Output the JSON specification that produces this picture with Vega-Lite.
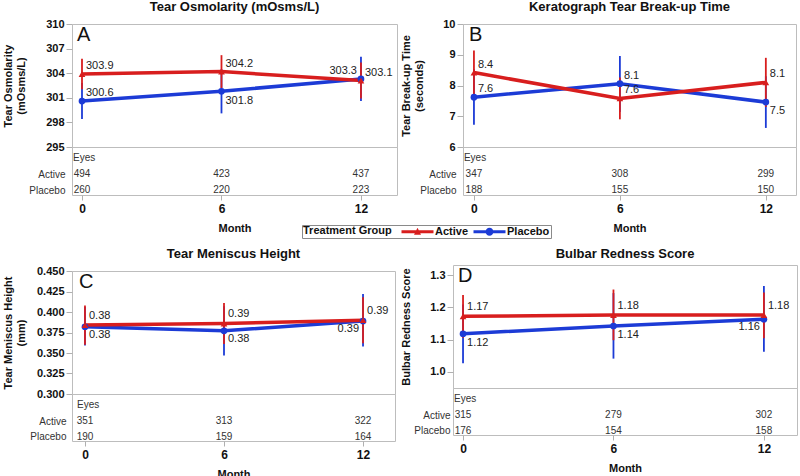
{
  "$schema": "https://vega.github.io/schema/vega-lite/v6.json",
  "padding": {"left": 1, "top": 0, "right": 0, "bottom": 0},
  "background": "white",
  "config": {
    "font": "Liberation Sans",
    "view": {"stroke": "#bdbdbd", "strokeWidth": 1},
    "axis": {"labelFont": "Liberation Sans", "titleFont": "Liberation Sans", "domain": false, "grid": false, "tickColor": "#b0b0b0", "labelColor": "#111111", "titleColor": "#111111", "labelOverlap": false, "tickCount": 20},
    "title": {"font": "Liberation Sans", "fontSize": 13, "fontWeight": "bold", "color": "#111111", "anchor": "middle", "offset": 4, "frame": "group"},
    "text": {"font": "Liberation Sans"},
    "legend": {"labelFont": "Liberation Sans", "titleFont": "Liberation Sans"}
  },
  "datasets": {
    "stats": [
      {"panel": "A", "group": "Placebo", "month": 0, "mean": 300.6, "lower": 298.4, "upper": 302.8},
      {"panel": "A", "group": "Placebo", "month": 6, "mean": 301.8, "lower": 299.1, "upper": 304.5},
      {"panel": "A", "group": "Placebo", "month": 12, "mean": 303.3, "lower": 300.6, "upper": 306.0},
      {"panel": "A", "group": "Active", "month": 0, "mean": 303.9, "lower": 302.05, "upper": 305.75},
      {"panel": "A", "group": "Active", "month": 6, "mean": 304.2, "lower": 302.2, "upper": 306.2},
      {"panel": "A", "group": "Active", "month": 12, "mean": 303.1, "lower": 300.9, "upper": 305.3},
      {"panel": "B", "group": "Placebo", "month": 0, "mean": 7.62, "lower": 6.72, "upper": 8.53},
      {"panel": "B", "group": "Placebo", "month": 6, "mean": 8.06, "lower": 7.14, "upper": 8.96},
      {"panel": "B", "group": "Placebo", "month": 12, "mean": 7.46, "lower": 6.62, "upper": 8.3},
      {"panel": "B", "group": "Active", "month": 0, "mean": 8.42, "lower": 7.7, "upper": 9.14},
      {"panel": "B", "group": "Active", "month": 6, "mean": 7.58, "lower": 6.9, "upper": 8.26},
      {"panel": "B", "group": "Active", "month": 12, "mean": 8.1, "lower": 7.3, "upper": 8.9},
      {"panel": "C", "group": "Placebo", "month": 0, "mean": 0.382, "lower": 0.359, "upper": 0.406},
      {"panel": "C", "group": "Placebo", "month": 6, "mean": 0.377, "lower": 0.347, "upper": 0.407},
      {"panel": "C", "group": "Placebo", "month": 12, "mean": 0.389, "lower": 0.358, "upper": 0.422},
      {"panel": "C", "group": "Active", "month": 0, "mean": 0.384, "lower": 0.36, "upper": 0.408},
      {"panel": "C", "group": "Active", "month": 6, "mean": 0.386, "lower": 0.361, "upper": 0.411},
      {"panel": "C", "group": "Active", "month": 12, "mean": 0.39, "lower": 0.362, "upper": 0.418},
      {"panel": "D", "group": "Placebo", "month": 0, "mean": 1.118, "lower": 1.027, "upper": 1.209},
      {"panel": "D", "group": "Placebo", "month": 6, "mean": 1.142, "lower": 1.041, "upper": 1.244},
      {"panel": "D", "group": "Placebo", "month": 12, "mean": 1.163, "lower": 1.062, "upper": 1.266},
      {"panel": "D", "group": "Active", "month": 0, "mean": 1.172, "lower": 1.106, "upper": 1.238},
      {"panel": "D", "group": "Active", "month": 6, "mean": 1.176, "lower": 1.098, "upper": 1.255},
      {"panel": "D", "group": "Active", "month": 12, "mean": 1.176, "lower": 1.104, "upper": 1.246}
    ],
    "eyes": [
      {"panel": "A", "group": "Active", "month": 0, "n": 494},
      {"panel": "A", "group": "Active", "month": 6, "n": 423},
      {"panel": "A", "group": "Active", "month": 12, "n": 437},
      {"panel": "A", "group": "Placebo", "month": 0, "n": 260},
      {"panel": "A", "group": "Placebo", "month": 6, "n": 220},
      {"panel": "A", "group": "Placebo", "month": 12, "n": 223},
      {"panel": "B", "group": "Active", "month": 0, "n": 347},
      {"panel": "B", "group": "Active", "month": 6, "n": 308},
      {"panel": "B", "group": "Active", "month": 12, "n": 299},
      {"panel": "B", "group": "Placebo", "month": 0, "n": 188},
      {"panel": "B", "group": "Placebo", "month": 6, "n": 155},
      {"panel": "B", "group": "Placebo", "month": 12, "n": 150},
      {"panel": "C", "group": "Active", "month": 0, "n": 351},
      {"panel": "C", "group": "Active", "month": 6, "n": 313},
      {"panel": "C", "group": "Active", "month": 12, "n": 322},
      {"panel": "C", "group": "Placebo", "month": 0, "n": 190},
      {"panel": "C", "group": "Placebo", "month": 6, "n": 159},
      {"panel": "C", "group": "Placebo", "month": 12, "n": 164},
      {"panel": "D", "group": "Active", "month": 0, "n": 315},
      {"panel": "D", "group": "Active", "month": 6, "n": 279},
      {"panel": "D", "group": "Active", "month": 12, "n": 302},
      {"panel": "D", "group": "Placebo", "month": 0, "n": 176},
      {"panel": "D", "group": "Placebo", "month": 6, "n": 154},
      {"panel": "D", "group": "Placebo", "month": 12, "n": 158}
    ],
    "letters": [
      {"panel": "A", "t": "A"},
      {"panel": "B", "t": "B"},
      {"panel": "C", "t": "C"},
      {"panel": "D", "t": "D"}
    ],
    "eyeshead": [
      {"panel": "A", "group": "Eyes", "t": "Eyes"},
      {"panel": "B", "group": "Eyes", "t": "Eyes"},
      {"panel": "C", "group": "Eyes", "t": "Eyes"},
      {"panel": "D", "group": "Eyes", "t": "Eyes"}
    ]
  },
  "columns": 2,
  "align": "none",
  "spacing": {"row": 13, "column": 2},
  "concat": [
        {
          "spacing": 0, "bounds": "flush",
          "vconcat": [
            {
              "title": {"text": "Tear Osmolarity (mOsms/L)"},
              "width": 325, "height": 123,
              "layer": [
                {"data": {"name": "stats"}, "transform": [{"filter": "datum.panel === 'A'"}],
                 "mark": {"type": "rule", "strokeWidth": 1.8},
                 "encoding": {"x": {"field": "month", "type": "quantitative", "scale": {"domain": [-0.43, 13.55], "nice": false, "zero": false}, "axis": null},
                  "y": {"field": "lower", "type": "quantitative", "scale": {"domain": [295, 310], "nice": false, "zero": false}, "axis": {"values": [295, 298, 301, 304, 307, 310], "format": "d", "title": ["Tear Osmolarity", "(mOsms/L)"], "titleFontSize": 11, "titleFontWeight": "bold", "labelFontSize": 11, "labelFontWeight": "bold", "tickSize": 6, "labelPadding": 2, "titlePadding": 19}},
                  "y2": {"field": "upper"},
                  "color": {"condition": {"test": "datum.group === 'Active'", "value": "#d81e1e"}, "value": "#1c3bd6"}}},
                {"data": {"name": "stats"}, "transform": [{"filter": "datum.panel === 'A'"}],
                 "mark": {"type": "line", "strokeWidth": 3.5},
                 "encoding": {"x": {"field": "month", "type": "quantitative"}, "y": {"field": "mean", "type": "quantitative"}, "detail": {"field": "group"},
                  "color": {"condition": {"test": "datum.group === 'Active'", "value": "#d81e1e"}, "value": "#1c3bd6"}}},
                {"data": {"name": "stats"}, "transform": [{"filter": "datum.panel === 'A'"}],
                 "mark": {"type": "point", "filled": true, "opacity": 1, "size": 45},
                 "encoding": {"x": {"field": "month", "type": "quantitative"}, "y": {"field": "mean", "type": "quantitative"},
                  "color": {"condition": {"test": "datum.group === 'Active'", "value": "#d81e1e"}, "value": "#1c3bd6"},
                  "shape": {"condition": {"test": "datum.group === 'Active'", "value": "triangle-up"}, "value": "circle"}}},
                {"data": {"name": "stats"}, "transform": [{"filter": "datum.panel === 'A' && !(datum.group === 'Placebo' && datum.month >= 6)"}],
                 "mark": {"type": "text", "align": "left", "baseline": "middle", "dx": 4, "dy": -8, "fontSize": 11, "color": "#222222"},
                 "encoding": {"x": {"field": "month", "type": "quantitative"}, "y": {"field": "mean", "type": "quantitative"}, "text": {"field": "mean", "format": ".1f"}}},
                {"data": {"name": "stats"}, "transform": [{"filter": "datum.panel === 'A' && datum.group === 'Placebo' && datum.month === 6"}],
                 "mark": {"type": "text", "align": "left", "baseline": "middle", "dx": 4, "dy": 10, "fontSize": 11, "color": "#222222"},
                 "encoding": {"x": {"field": "month", "type": "quantitative"}, "y": {"field": "mean", "type": "quantitative"}, "text": {"field": "mean", "format": ".1f"}}},
                {"data": {"name": "stats"}, "transform": [{"filter": "datum.panel === 'A' && datum.group === 'Placebo' && datum.month === 12"}],
                 "mark": {"type": "text", "align": "right", "baseline": "middle", "dx": -4, "dy": -8, "fontSize": 11, "color": "#222222"},
                 "encoding": {"x": {"field": "month", "type": "quantitative"}, "y": {"field": "mean", "type": "quantitative"}, "text": {"field": "mean", "format": ".1f"}}},
                {"data": {"name": "letters"}, "transform": [{"filter": "datum.panel === 'A'"}],
                 "mark": {"type": "text", "align": "left", "baseline": "top", "fontSize": 20, "dx": 5, "dy": 1, "color": "#111111"},
                 "encoding": {"x": {"datum": -0.43}, "y": {"datum": 310}, "text": {"field": "t"}}},
                {"data": {"name": "stats"}, "transform": [{"filter": "false"}],
                 "mark": {"type": "point", "filled": true, "opacity": 1},
                 "encoding": {
                  "color": {"field": "group", "type": "nominal", "scale": {"domain": ["Active", "Placebo"], "range": ["#d81e1e", "#1c3bd6"]}, "legend": {"orient": "none", "legendX": 230, "legendY": 201, "direction": "horizontal", "title": "Treatment Group", "titleOrient": "left", "titleFontSize": 11, "titleFontWeight": "bold", "titleColor": "#111111", "labelFontSize": 11, "labelFontWeight": "bold", "labelColor": "#111111", "symbolSize": 100, "symbolOpacity": 1, "symbolStrokeWidth": 0, "strokeColor": "#8a8a8a", "fillColor": "white", "padding": 1, "columnPadding": 4, "labelOffset": 12, "titlePadding": 20}},
                  "shape": {"field": "group", "type": "nominal", "scale": {"domain": ["Active", "Placebo"], "range": ["M-3.2,-0.3H3.2V0.3H-3.2ZM0,-0.8L0.7,0.6L-0.7,0.6Z", "M-3.2,-0.3H3.2V0.3H-3.2ZM0.8,0A0.8,0.8 0 1 1 -0.8,0A0.8,0.8 0 1 1 0.8,0Z"]}, "legend": {"orient": "none", "legendX": 230, "legendY": 201, "direction": "horizontal", "title": "Treatment Group", "titleOrient": "left", "titleFontSize": 11, "titleFontWeight": "bold", "titleColor": "#111111", "labelFontSize": 11, "labelFontWeight": "bold", "labelColor": "#111111", "symbolSize": 100, "symbolOpacity": 1, "symbolStrokeWidth": 0, "strokeColor": "#8a8a8a", "fillColor": "white", "padding": 1, "columnPadding": 4, "labelOffset": 12, "titlePadding": 20}}}}
              ]
            },
            {
              "width": 325, "height": 48,
              "layer": [
                {"data": {"name": "eyes"}, "transform": [{"filter": "datum.panel === 'A'"}],
                 "mark": {"type": "text", "fontSize": 10, "color": "#333333"},
                 "encoding": {"x": {"field": "month", "type": "quantitative", "scale": {"domain": [-0.43, 13.55], "nice": false, "zero": false}, "axis": {"values": [0, 6, 12], "format": "d", "title": "Month", "labelFontSize": 12, "labelFontWeight": "bold", "titleFontSize": 11, "titleFontWeight": "bold", "tickSize": 5, "labelPadding": 3, "titlePadding": 8}},
                  "y": {"field": "group", "type": "nominal", "scale": {"type": "point", "domain": ["Eyes", "Active", "Placebo"], "paddingOuter": 0.92, "align": 0.7}, "axis": {"title": null, "ticks": false, "domain": false, "labelFontSize": 10, "labelFontWeight": "normal", "labelColor": "#333333", "labelPadding": 7, "labelExpr": "datum.value === 'Eyes' ? '' : datum.value"}},
                  "text": {"field": "n"}}},
                {"data": {"name": "eyeshead"}, "transform": [{"filter": "datum.panel === 'A'"}],
                 "mark": {"type": "text", "fontSize": 10, "align": "left", "dx": -9, "color": "#333333"},
                 "encoding": {"x": {"datum": 0}, "y": {"field": "group", "type": "nominal"}, "text": {"field": "t"}}}
              ]
            }
          ]
        },
        {
          "spacing": 0, "bounds": "flush",
          "vconcat": [
            {
              "title": {"text": "Keratograph Tear Break-up Time"},
              "width": 333, "height": 123,
              "layer": [
                {"data": {"name": "stats"}, "transform": [{"filter": "datum.panel === 'B'"}],
                 "mark": {"type": "rule", "strokeWidth": 1.8},
                 "encoding": {"x": {"field": "month", "type": "quantitative", "scale": {"domain": [-0.45, 13.24], "nice": false, "zero": false}, "axis": null},
                  "y": {"field": "lower", "type": "quantitative", "scale": {"domain": [6, 10], "nice": false, "zero": false}, "axis": {"values": [6, 7, 8, 9, 10], "format": "d", "title": ["Tear Break-up Time", "(seconds)"], "titleFontSize": 11, "titleFontWeight": "bold", "labelFontSize": 11, "labelFontWeight": "bold", "tickSize": 6, "labelPadding": 2, "titlePadding": 18}},
                  "y2": {"field": "upper"},
                  "color": {"condition": {"test": "datum.group === 'Active'", "value": "#d81e1e"}, "value": "#1c3bd6"}}},
                {"data": {"name": "stats"}, "transform": [{"filter": "datum.panel === 'B'"}],
                 "mark": {"type": "line", "strokeWidth": 3.5},
                 "encoding": {"x": {"field": "month", "type": "quantitative"}, "y": {"field": "mean", "type": "quantitative"}, "detail": {"field": "group"},
                  "color": {"condition": {"test": "datum.group === 'Active'", "value": "#d81e1e"}, "value": "#1c3bd6"}}},
                {"data": {"name": "stats"}, "transform": [{"filter": "datum.panel === 'B'"}],
                 "mark": {"type": "point", "filled": true, "opacity": 1, "size": 45},
                 "encoding": {"x": {"field": "month", "type": "quantitative"}, "y": {"field": "mean", "type": "quantitative"},
                  "color": {"condition": {"test": "datum.group === 'Active'", "value": "#d81e1e"}, "value": "#1c3bd6"},
                  "shape": {"condition": {"test": "datum.group === 'Active'", "value": "triangle-up"}, "value": "circle"}}},
                {"data": {"name": "stats"}, "transform": [{"filter": "datum.panel === 'B' && !(datum.group === 'Placebo' && datum.month === 12)"}],
                 "mark": {"type": "text", "align": "left", "baseline": "middle", "dx": 4, "dy": -8, "fontSize": 11, "color": "#222222"},
                 "encoding": {"x": {"field": "month", "type": "quantitative"}, "y": {"field": "mean", "type": "quantitative"}, "text": {"field": "mean", "format": ".1f"}}},
                {"data": {"name": "stats"}, "transform": [{"filter": "datum.panel === 'B' && datum.group === 'Placebo' && datum.month === 12"}],
                 "mark": {"type": "text", "align": "left", "baseline": "middle", "dx": 4, "dy": 9, "fontSize": 11, "color": "#222222"},
                 "encoding": {"x": {"field": "month", "type": "quantitative"}, "y": {"field": "mean", "type": "quantitative"}, "text": {"field": "mean", "format": ".1f"}}},
                {"data": {"name": "letters"}, "transform": [{"filter": "datum.panel === 'B'"}],
                 "mark": {"type": "text", "align": "left", "baseline": "top", "fontSize": 20, "dx": 6, "dy": 1, "color": "#111111"},
                 "encoding": {"x": {"datum": -0.45}, "y": {"datum": 10}, "text": {"field": "t"}}}
              ]
            },
            {
              "width": 333, "height": 48,
              "layer": [
                {"data": {"name": "eyes"}, "transform": [{"filter": "datum.panel === 'B'"}],
                 "mark": {"type": "text", "fontSize": 10, "color": "#333333"},
                 "encoding": {"x": {"field": "month", "type": "quantitative", "scale": {"domain": [-0.45, 13.24], "nice": false, "zero": false}, "axis": {"values": [0, 6, 12], "format": "d", "title": "Month", "labelFontSize": 12, "labelFontWeight": "bold", "titleFontSize": 11, "titleFontWeight": "bold", "tickSize": 5, "labelPadding": 3, "titlePadding": 8}},
                  "y": {"field": "group", "type": "nominal", "scale": {"type": "point", "domain": ["Eyes", "Active", "Placebo"], "paddingOuter": 0.92, "align": 0.7}, "axis": {"title": null, "ticks": false, "domain": false, "labelFontSize": 10, "labelFontWeight": "normal", "labelColor": "#333333", "labelPadding": 7, "labelExpr": "datum.value === 'Eyes' ? '' : datum.value"}},
                  "text": {"field": "n"}}},
                {"data": {"name": "eyeshead"}, "transform": [{"filter": "datum.panel === 'B'"}],
                 "mark": {"type": "text", "fontSize": 10, "align": "left", "dx": -10, "color": "#333333"},
                 "encoding": {"x": {"datum": 0}, "y": {"field": "group", "type": "nominal"}, "text": {"field": "t"}}}
              ]
            }
          ]
        },
        {
          "spacing": 0, "bounds": "flush",
          "vconcat": [
            {
              "title": {"text": "Tear Meniscus Height"},
              "width": 323, "height": 123,
              "layer": [
                {"data": {"name": "stats"}, "transform": [{"filter": "datum.panel === 'C'"}],
                 "mark": {"type": "rule", "strokeWidth": 1.8},
                 "encoding": {"x": {"field": "month", "type": "quantitative", "scale": {"domain": [-0.56, 13.38], "nice": false, "zero": false}, "axis": null},
                  "y": {"field": "lower", "type": "quantitative", "scale": {"domain": [0.3, 0.45], "nice": false, "zero": false}, "axis": {"values": [0.3, 0.325, 0.35, 0.375, 0.4, 0.425, 0.45], "format": ".3f", "title": ["Tear Meniscus Height", "(mm)"], "titleFontSize": 11, "titleFontWeight": "bold", "labelFontSize": 11, "labelFontWeight": "bold", "tickSize": 6, "labelPadding": 2, "titlePadding": 10}},
                  "y2": {"field": "upper"},
                  "color": {"condition": {"test": "datum.group === 'Active'", "value": "#d81e1e"}, "value": "#1c3bd6"}}},
                {"data": {"name": "stats"}, "transform": [{"filter": "datum.panel === 'C'"}],
                 "mark": {"type": "line", "strokeWidth": 3.5},
                 "encoding": {"x": {"field": "month", "type": "quantitative"}, "y": {"field": "mean", "type": "quantitative"}, "detail": {"field": "group"},
                  "color": {"condition": {"test": "datum.group === 'Active'", "value": "#d81e1e"}, "value": "#1c3bd6"}}},
                {"data": {"name": "stats"}, "transform": [{"filter": "datum.panel === 'C'"}],
                 "mark": {"type": "point", "filled": true, "opacity": 1, "size": 45},
                 "encoding": {"x": {"field": "month", "type": "quantitative"}, "y": {"field": "mean", "type": "quantitative"},
                  "color": {"condition": {"test": "datum.group === 'Active'", "value": "#d81e1e"}, "value": "#1c3bd6"},
                  "shape": {"condition": {"test": "datum.group === 'Active'", "value": "triangle-up"}, "value": "circle"}}},
                {"data": {"name": "stats"}, "transform": [{"filter": "datum.panel === 'C' && datum.group === 'Active'"}],
                 "mark": {"type": "text", "align": "left", "baseline": "middle", "dx": 4, "dy": -9, "fontSize": 11, "color": "#222222"},
                 "encoding": {"x": {"field": "month", "type": "quantitative"}, "y": {"field": "mean", "type": "quantitative"}, "text": {"field": "mean", "format": ".2f"}}},
                {"data": {"name": "stats"}, "transform": [{"filter": "datum.panel === 'C' && datum.group === 'Placebo' && datum.month < 12"}],
                 "mark": {"type": "text", "align": "left", "baseline": "middle", "dx": 4, "dy": 8, "fontSize": 11, "color": "#222222"},
                 "encoding": {"x": {"field": "month", "type": "quantitative"}, "y": {"field": "mean", "type": "quantitative"}, "text": {"field": "mean", "format": ".2f"}}},
                {"data": {"name": "stats"}, "transform": [{"filter": "datum.panel === 'C' && datum.group === 'Placebo' && datum.month === 12"}],
                 "mark": {"type": "text", "align": "right", "baseline": "middle", "dx": -4, "dy": 8, "fontSize": 11, "color": "#222222"},
                 "encoding": {"x": {"field": "month", "type": "quantitative"}, "y": {"field": "mean", "type": "quantitative"}, "text": {"field": "mean", "format": ".2f"}}},
                {"data": {"name": "letters"}, "transform": [{"filter": "datum.panel === 'C'"}],
                 "mark": {"type": "text", "align": "left", "baseline": "top", "fontSize": 20, "dx": 7, "dy": 1, "color": "#111111"},
                 "encoding": {"x": {"datum": -0.56}, "y": {"datum": 0.45}, "text": {"field": "t"}}}
              ]
            },
            {
              "width": 323, "height": 47,
              "layer": [
                {"data": {"name": "eyes"}, "transform": [{"filter": "datum.panel === 'C'"}],
                 "mark": {"type": "text", "fontSize": 10, "color": "#333333"},
                 "encoding": {"x": {"field": "month", "type": "quantitative", "scale": {"domain": [-0.56, 13.38], "nice": false, "zero": false}, "axis": {"values": [0, 6, 12], "format": "d", "title": "Month", "labelFontSize": 12, "labelFontWeight": "bold", "titleFontSize": 11, "titleFontWeight": "bold", "tickSize": 5, "labelPadding": 3, "titlePadding": 8}},
                  "y": {"field": "group", "type": "nominal", "scale": {"type": "point", "domain": ["Eyes", "Active", "Placebo"], "paddingOuter": 0.88, "align": 0.727}, "axis": {"title": null, "ticks": false, "domain": false, "labelFontSize": 10, "labelFontWeight": "normal", "labelColor": "#333333", "labelPadding": 6, "labelExpr": "datum.value === 'Eyes' ? '' : datum.value"}},
                  "text": {"field": "n"}}},
                {"data": {"name": "eyeshead"}, "transform": [{"filter": "datum.panel === 'C'"}],
                 "mark": {"type": "text", "fontSize": 10, "align": "left", "dx": -8, "color": "#333333"},
                 "encoding": {"x": {"datum": 0}, "y": {"field": "group", "type": "nominal"}, "text": {"field": "t"}}}
              ]
            }
          ]
        },
        {
          "spacing": 0, "bounds": "flush",
          "vconcat": [
            {
              "title": {"text": "Bulbar Redness Score"},
              "width": 344, "height": 123,
              "layer": [
                {"data": {"name": "stats"}, "transform": [{"filter": "datum.panel === 'D'"}],
                 "mark": {"type": "rule", "strokeWidth": 1.8},
                 "encoding": {"x": {"field": "month", "type": "quantitative", "scale": {"domain": [-0.4, 13.32], "nice": false, "zero": false}, "axis": null},
                  "y": {"field": "lower", "type": "quantitative", "scale": {"domain": [0.95, 1.331], "nice": false, "zero": false}, "axis": {"values": [1.0, 1.1, 1.2, 1.3], "format": ".1f", "title": "Bulbar Redness Score", "titleFontSize": 11, "titleFontWeight": "bold", "labelFontSize": 11, "labelFontWeight": "bold", "tickSize": 6, "labelPadding": 2, "titlePadding": 18}},
                  "y2": {"field": "upper"},
                  "color": {"condition": {"test": "datum.group === 'Active'", "value": "#d81e1e"}, "value": "#1c3bd6"}}},
                {"data": {"name": "stats"}, "transform": [{"filter": "datum.panel === 'D'"}],
                 "mark": {"type": "line", "strokeWidth": 3.5},
                 "encoding": {"x": {"field": "month", "type": "quantitative"}, "y": {"field": "mean", "type": "quantitative"}, "detail": {"field": "group"},
                  "color": {"condition": {"test": "datum.group === 'Active'", "value": "#d81e1e"}, "value": "#1c3bd6"}}},
                {"data": {"name": "stats"}, "transform": [{"filter": "datum.panel === 'D'"}],
                 "mark": {"type": "point", "filled": true, "opacity": 1, "size": 45},
                 "encoding": {"x": {"field": "month", "type": "quantitative"}, "y": {"field": "mean", "type": "quantitative"},
                  "color": {"condition": {"test": "datum.group === 'Active'", "value": "#d81e1e"}, "value": "#1c3bd6"},
                  "shape": {"condition": {"test": "datum.group === 'Active'", "value": "triangle-up"}, "value": "circle"}}},
                {"data": {"name": "stats"}, "transform": [{"filter": "datum.panel === 'D' && datum.group === 'Active'"}],
                 "mark": {"type": "text", "align": "left", "baseline": "middle", "dx": 4, "dy": -9, "fontSize": 11, "color": "#222222"},
                 "encoding": {"x": {"field": "month", "type": "quantitative"}, "y": {"field": "mean", "type": "quantitative"}, "text": {"field": "mean", "format": ".2f"}}},
                {"data": {"name": "stats"}, "transform": [{"filter": "datum.panel === 'D' && datum.group === 'Placebo' && datum.month < 12"}],
                 "mark": {"type": "text", "align": "left", "baseline": "middle", "dx": 4, "dy": 9, "fontSize": 11, "color": "#222222"},
                 "encoding": {"x": {"field": "month", "type": "quantitative"}, "y": {"field": "mean", "type": "quantitative"}, "text": {"field": "mean", "format": ".2f"}}},
                {"data": {"name": "stats"}, "transform": [{"filter": "datum.panel === 'D' && datum.group === 'Placebo' && datum.month === 12"}],
                 "mark": {"type": "text", "align": "right", "baseline": "middle", "dx": -4, "dy": 8, "fontSize": 11, "color": "#222222"},
                 "encoding": {"x": {"field": "month", "type": "quantitative"}, "y": {"field": "mean", "type": "quantitative"}, "text": {"field": "mean", "format": ".2f"}}},
                {"data": {"name": "letters"}, "transform": [{"filter": "datum.panel === 'D'"}],
                 "mark": {"type": "text", "align": "left", "baseline": "top", "fontSize": 20, "dx": 5, "dy": 1, "color": "#111111"},
                 "encoding": {"x": {"datum": -0.4}, "y": {"datum": 1.331}, "text": {"field": "t"}}}
              ]
            },
            {
              "width": 344, "height": 47,
              "layer": [
                {"data": {"name": "eyes"}, "transform": [{"filter": "datum.panel === 'D'"}],
                 "mark": {"type": "text", "fontSize": 10, "color": "#333333"},
                 "encoding": {"x": {"field": "month", "type": "quantitative", "scale": {"domain": [-0.4, 13.32], "nice": false, "zero": false}, "axis": {"values": [0, 6, 12], "format": "d", "title": "Month", "labelFontSize": 12, "labelFontWeight": "bold", "titleFontSize": 11, "titleFontWeight": "bold", "tickSize": 5, "labelPadding": 3, "titlePadding": 8}},
                  "y": {"field": "group", "type": "nominal", "scale": {"type": "point", "domain": ["Eyes", "Active", "Placebo"], "paddingOuter": 0.88, "align": 0.727}, "axis": {"title": null, "ticks": false, "domain": false, "labelFontSize": 10, "labelFontWeight": "normal", "labelColor": "#333333", "labelPadding": 3, "labelExpr": "datum.value === 'Eyes' ? '' : datum.value"}},
                  "text": {"field": "n"}}},
                {"data": {"name": "eyeshead"}, "transform": [{"filter": "datum.panel === 'D'"}],
                 "mark": {"type": "text", "fontSize": 10, "align": "left", "dx": -9, "color": "#333333"},
                 "encoding": {"x": {"datum": 0}, "y": {"field": "group", "type": "nominal"}, "text": {"field": "t"}}}
              ]
            }
          ]
        }
  ]
}
